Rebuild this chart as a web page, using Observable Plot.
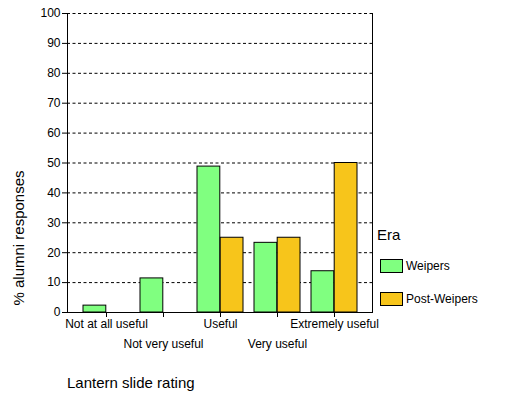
<!DOCTYPE html>
<html>
<head>
<meta charset="utf-8">
<script src="https://cdn.jsdelivr.net/npm/d3@7"></script>
<script src="https://cdn.jsdelivr.net/npm/@observablehq/plot@0.6"></script>
<style>
  html, body { margin: 0; padding: 0; background: #fff; }
  #wrap { position: relative; width: 524px; height: 396px; font-family: "Liberation Sans", Arial, sans-serif; color: #000; }
  #chart svg { display: block; }
  .ytitle { position: absolute; left: 18px; top: 238px; transform: translate(-50%, -50%) rotate(-90deg); font-size: 15px; white-space: nowrap; }
  .xtitle { position: absolute; left: 67px; top: 374px; font-size: 15px; white-space: nowrap; }
  .legend { position: absolute; left: 377px; top: 226px; font-size: 12px; }
  .legend .ttl { font-size: 15px; margin-bottom: 16px; }
  .legend .item { display: flex; align-items: center; height: 14px; margin-bottom: 19px; margin-left: 3px; }
  .legend .sw { width: 21px; height: 12px; border: 1px solid #000; margin-right: 3px; }
</style>
</head>
<body>
<div id="wrap">
  <div id="chart"></div>
  <div class="ytitle">% alumni responses</div>
  <div class="xtitle">Lantern slide rating</div>
  <div class="legend" id="legend"></div>
</div>
<script>
const categories = ["Not at all useful", "Not very useful", "Useful", "Very useful", "Extremely useful"];
const eras = ["Weipers", "Post-Weipers"];
const weipers = [2.3, 11.4, 48.8, 23.3, 13.8];
const postWeipers = [0, 0, 25, 25, 50];
const yTicks = [0, 10, 20, 30, 40, 50, 60, 70, 80, 90, 100];
const colors = ["#80ff80", "#f7c51b"];

const rowsW = categories.map((c, i) => ({category: c, era: eras[0], value: weipers[i]}));
const rowsP = categories.map((c, i) => ({category: c, era: eras[1], value: postWeipers[i]}));

const half = 23.2;

const chart = Plot.plot({
  width: 524,
  height: 396,
  marginTop: 13,
  marginLeft: 67,
  marginRight: 152,
  marginBottom: 84,
  style: {fontFamily: "'Liberation Sans', Arial, sans-serif", fontSize: "12px", color: "#000", background: "#fff"},
  x: {domain: categories, paddingInner: 0.193, paddingOuter: 0.254},
  y: {domain: [0, 100]},
  color: {domain: eras, range: colors},
  marks: [
    Plot.gridY(yTicks.filter(d => d > 0), {stroke: "#000", strokeOpacity: 1, strokeDasharray: "3,2.5"}),
    Plot.barY(rowsW, {x: "category", y: "value", fill: "era", stroke: "#000", strokeWidth: 1, insetRight: half}),
    Plot.barY(rowsP, {x: "category", y: "value", fill: "era", stroke: "#000", strokeWidth: 1, insetLeft: half}),
    Plot.frame({anchor: "left", stroke: "#000"}),
    Plot.frame({anchor: "bottom", stroke: "#000"}),
    Plot.frame({anchor: "right", stroke: "#000"}),
    Plot.axisY({ticks: yTicks, tickSize: 5, tickPadding: 2, label: null, fontSize: 12}),
    Plot.axisX({ticks: categories.filter((d, i) => i % 2 === 0), tickSize: 5, tickPadding: 2, label: null, fontSize: 12}),
    Plot.axisX({ticks: categories.filter((d, i) => i % 2 === 1), tickSize: 5, tickPadding: 22, label: null, fontSize: 12})
  ]
});
document.getElementById("chart").appendChild(chart);

const lg = document.getElementById("legend");
lg.innerHTML = `<div class="ttl">Era</div>` + eras.map((e, i) =>
  `<div class="item"><div class="sw" style="background:${colors[i]}"></div><span>${e}</span></div>`).join("");
</script>
</body>
</html>
